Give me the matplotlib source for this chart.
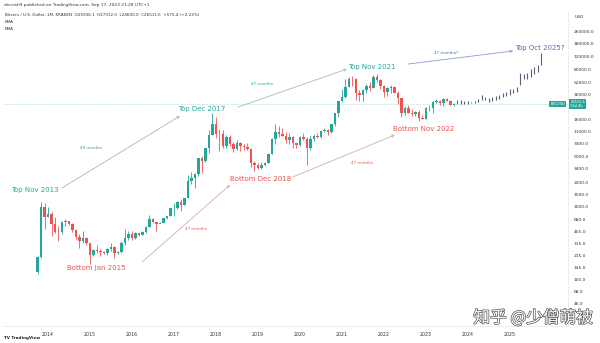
import numpy as np
import matplotlib.pyplot as plt
import matplotlib.patheffects as pe

# monthly candles, Oct 2013 .. Sep 2023 (month index 0 = Jan 2014)
first_month = -3
opens = [125, 204, 1000,
         735, 810, 575, 457, 445, 630, 640, 585, 480, 387, 338, 378,
         320, 218, 255, 245, 236, 230, 264, 284, 230, 236, 314, 377,
         430, 368, 437, 416, 448, 531, 673, 624, 575, 609, 700, 745,
         965, 965, 1190, 1080, 1350, 2300, 2490, 2870, 4730, 4340, 6450, 10000,
         13800, 10200, 10300, 6930, 9240, 7500, 6400, 7730, 7030, 6630, 6370, 4040,
         3740, 3450, 3820, 4100, 5320, 8570, 10800, 10080, 9600, 8300, 9150, 7550,
         7200, 9350, 8540, 6420, 8630, 9450, 9140, 11350, 11650, 10780, 13800, 19700,
         28950, 33100, 45200, 58800, 57700, 37300, 35000, 41500, 47100, 43800, 61300, 57000,
         46200, 38500, 43200, 45500, 37700, 31800, 19950, 23300, 20050, 19430, 20500, 17150,
         16540, 23130, 23140, 28480, 29250, 27200, 30480, 29240, 25936]
closes = [204, 1000, 735,
          810, 575, 457, 445, 630, 640, 585, 480, 387, 338, 378, 320,
          218, 255, 245, 236, 230, 264, 284, 230, 236, 314, 377, 430,
          368, 437, 416, 448, 531, 673, 624, 575, 609, 700, 745, 965,
          965, 1190, 1080, 1350, 2300, 2490, 2870, 4730, 4340, 6450, 10000, 13800,
          10200, 10300, 6930, 9240, 7500, 6400, 7730, 7030, 6630, 6370, 4040, 3740,
          3450, 3820, 4100, 5320, 8570, 10800, 10080, 9600, 8300, 9150, 7550, 7200,
          9350, 8540, 6420, 8630, 9450, 9140, 11350, 11650, 10780, 13800, 19700, 28950,
          33100, 45200, 58800, 57700, 37300, 35000, 41500, 47100, 43800, 61300, 57000, 46200,
          38500, 43200, 45500, 37700, 31800, 19950, 23300, 20050, 19430, 20500, 17150, 16540,
          23130, 23140, 28480, 29250, 27200, 30480, 29240, 25936, 26511.6]
highs = [210, 1160, 1150,
         1000, 850, 720, 540, 635, 680, 650, 600, 500, 425, 460, 390,
         320, 260, 300, 260, 248, 268, 318, 285, 245, 335, 500, 465,
         460, 445, 440, 465, 545, 780, 705, 625, 615, 715, 755, 975,
         1150, 1210, 1290, 1350, 2760, 3000, 2950, 4750, 5000, 6450, 11400, 19700,
         17200, 11800, 11700, 9750, 10000, 7770, 8500, 7760, 7400, 7680, 6570, 4300,
         4100, 4200, 4130, 5600, 9000, 13900, 13200, 12300, 10950, 10400, 9500, 7750,
         9580, 10500, 9200, 9450, 10080, 10400, 11450, 12480, 12100, 14100, 19900, 29300,
         42000, 58300, 61800, 64900, 59500, 41300, 42400, 50500, 52900, 67000, 69000, 59100,
         47900, 45800, 48200, 47400, 40000, 31900, 24700, 25200, 22800, 21100, 21500, 18400,
         23900, 25250, 29200, 31000, 29800, 31400, 31800, 30200, 27312]
lows = [120, 200, 500,
        730, 400, 440, 340, 420, 545, 565, 450, 365, 275, 320, 300,
        165, 210, 235, 210, 225, 220, 250, 200, 225, 235, 300, 350,
        350, 365, 395, 415, 435, 525, 605, 470, 595, 605, 680, 740,
        750, 930, 890, 1060, 1350, 2100, 1830, 2670, 2950, 4120, 5500, 10000,
        9000, 6000, 6600, 6430, 7050, 5780, 6100, 5880, 6100, 6200, 3600, 3130,
        3350, 3380, 3670, 4070, 5320, 7480, 9100, 9400, 7700, 7300, 6500, 6430,
        6850, 8450, 3800, 6150, 8100, 8900, 8900, 10950, 9850, 10400, 13200, 17600,
        28100, 32300, 44900, 47000, 30000, 28800, 29300, 37400, 39600, 43300, 53300, 42000,
        32900, 34300, 37200, 37600, 26700, 17600, 18800, 19600, 18200, 18200, 15500, 16300,
        16500, 21400, 19600, 26900, 25800, 24800, 28900, 25200, 24600]

# projected bars, Oct 2023 .. Oct 2025
proj_first_month = 117
proj_high = [30000, 29500, 29000, 29000, 28500, 29000, 30500, 35000, 32500, 31500,
             32500, 33500, 35000, 37500, 39000, 42000, 42000, 45000, 70000, 68000,
             70000, 80000, 85000, 92000, 135000]
proj_low = [26000, 26500, 26500, 26500, 27000, 27000, 28000, 30000, 29500, 28500,
            29000, 30000, 31000, 32500, 33500, 35500, 37000, 39000, 48000, 58000,
            59000, 62000, 68000, 74000, 92000]

years = list(range(2014, 2026))
price_ticks = [46, 68, 100, 145, 215, 315, 455, 680, 1000, 1500, 2200, 3400, 5000,
               7400, 11000, 16000, 36000, 52000, 80000, 120000, 180000, 260000]
last_price = 26511.6

UP = '#26a69a'
DOWN = '#ef5350'
BLUE = '#4c6ea8'


def main():
    fig = plt.figure(figsize=(6, 3.43), dpi=100)
    ax = fig.add_axes([3 / 600, 17 / 343, 565 / 600, 314 / 343])

    o = np.array(opens, dtype=float)
    c = np.array(closes, dtype=float)
    h = np.array(highs, dtype=float)
    lo = np.array(lows, dtype=float)
    x = np.arange(len(o)) + first_month
    col = np.where(c >= o, UP, DOWN)

    ax.vlines(x, lo, h, colors=col, lw=0.6, zorder=2)
    bot = np.minimum(o, c)
    top = np.maximum(o, c)
    ax.bar(x, top - bot, bottom=bot, width=0.7, color=col, lw=0, zorder=3)

    xp = np.arange(len(proj_high)) + proj_first_month
    ax.vlines(xp, proj_low, proj_high, colors='#56627a', lw=0.8, zorder=2)

    ax.axhline(last_price, color=UP, lw=0.4, ls=(0, (1, 1.5)), alpha=0.7, zorder=1)

    ax.set_yscale('log')
    ax.set_xlim(-12.86, 148.6)
    ax.set_ylim(22.8, 490000)

    ax.set_xticks([(y - 2014) * 12 for y in years])
    ax.set_xticklabels([str(y) for y in years])
    ax.yaxis.tick_right()
    ax.set_yticks(price_ticks)
    ax.set_yticklabels([f"{v:.1f}" for v in price_ticks])
    ax.minorticks_off()
    ax.tick_params(axis='x', length=0, pad=4, labelsize=3.4, labelcolor='#333333')
    ax.tick_params(axis='y', length=0, pad=4, labelsize=3.2, labelcolor='#333333')
    for s in ax.spines.values():
        s.set_color('#e6e6e6')
        s.set_linewidth(0.5)
    ax.spines['left'].set_visible(False)
    ax.spines['top'].set_visible(False)

    # labels
    ax.text(-3.7, 1715, 'Top Nov 2013', color=UP, fontsize=5, ha='center', va='center')
    ax.text(44, 22500, 'Top Dec 2017', color=UP, fontsize=5, ha='center', va='center')
    ax.text(92.6, 85300, 'Top Nov 2021', color=UP, fontsize=5, ha='center', va='center')
    ax.text(140.6, 156000, 'Top Oct 2025?', color=BLUE, fontsize=5, ha='center', va='center')
    ax.text(13.9, 144, 'Bottom Jan 2015', color=DOWN, fontsize=5, ha='center', va='center')
    ax.text(60.9, 2430, 'Bottom Dec 2018', color=DOWN, fontsize=5, ha='center', va='center')
    ax.text(107.4, 11900, 'Bottom Nov 2022', color=DOWN, fontsize=5, ha='center', va='center')

    ax.text(12.3, 6520, '49 months', color=UP, fontsize=3, ha='center', va='center')
    ax.text(61.1, 49800, '47 months', color=UP, fontsize=3, ha='center', va='center')
    ax.text(42.3, 497, '47 months', color=DOWN, fontsize=3, ha='center', va='center')
    ax.text(89.7, 4040, '47 months', color=DOWN, fontsize=3, ha='center', va='center')
    ax.text(113.7, 133000, '47 months?', color=BLUE, fontsize=3, ha='center', va='center')

    arrows = [((4, 1830), (37.7, 18000), '#a9b9b7'),
              ((54.3, 23900), (85.4, 80000), '#a9b9b7'),
              ((26.9, 174), (52, 2010), '#d3aab0'),
              ((70, 2600), (99.1, 9840), '#d3aab0'),
              ((102.9, 93800), (132.9, 142000), '#8a9ccc')]
    for start, end, clr in arrows:
        ax.annotate('', xy=end, xytext=start,
                    arrowprops=dict(arrowstyle='->', color=clr, lw=0.6,
                                    mutation_scale=4, shrinkA=0, shrinkB=0))

    # price label on the axis
    ytr = ax.get_yaxis_transform()
    ax.text(0.995, last_price, 'BTCUSD', transform=ytr, fontsize=2.6, color='white',
            ha='right', va='center', clip_on=False,
            bbox=dict(boxstyle='square,pad=0.3', fc=UP, ec='none'))
    ax.text(1.004, last_price, f'{last_price:.1f}\n13d 4h', transform=ytr, fontsize=2.6,
            color='white', ha='left', va='center', clip_on=False, linespacing=1.1,
            bbox=dict(boxstyle='square,pad=0.3', fc=UP, ec='none'))
    ax.text(1.012, 0.985, 'USD', transform=ax.transAxes, fontsize=3.2, color='#333333',
            ha='left', va='center', clip_on=False)

    # header
    fig.text(4 / 600, 1 - 5 / 343, 'dervish9 published on TradingView.com, Sep 17, 2023 21:28 UTC+1',
             fontsize=3.1, color='#333333', va='center')
    fig.text(5 / 600, 1 - 15 / 343,
             'Bitcoin / U.S. Dollar, 1M, KRAKEN  O25936.1  H27312.0  L24600.0  C26511.6  +575.4 (+2.22%)',
             fontsize=3.0, color='#333333', va='center')
    fig.text(5 / 600, 1 - 22 / 343, 'EMA', fontsize=3.0, color='#333333', va='center')
    fig.text(5 / 600, 1 - 29 / 343, 'EMA', fontsize=3.0, color='#333333', va='center')
    fig.text(4 / 600, 1 - 338 / 343, 'TV TradingView', fontsize=3.0, color='#222222',
             va='center', fontweight='bold')

    # watermark
    fig.text(533 / 600, 1 - 318 / 343, '知乎 @少僧萌被', fontsize=12, color='white',
             ha='center', va='center', family=['Noto Sans CJK SC', 'DejaVu Sans'],
             path_effects=[pe.Stroke(linewidth=1.0, foreground='#555555'), pe.Normal()])

    fig.savefig('out.png', dpi=100, facecolor='white')


if __name__ == "__main__":
    main()
